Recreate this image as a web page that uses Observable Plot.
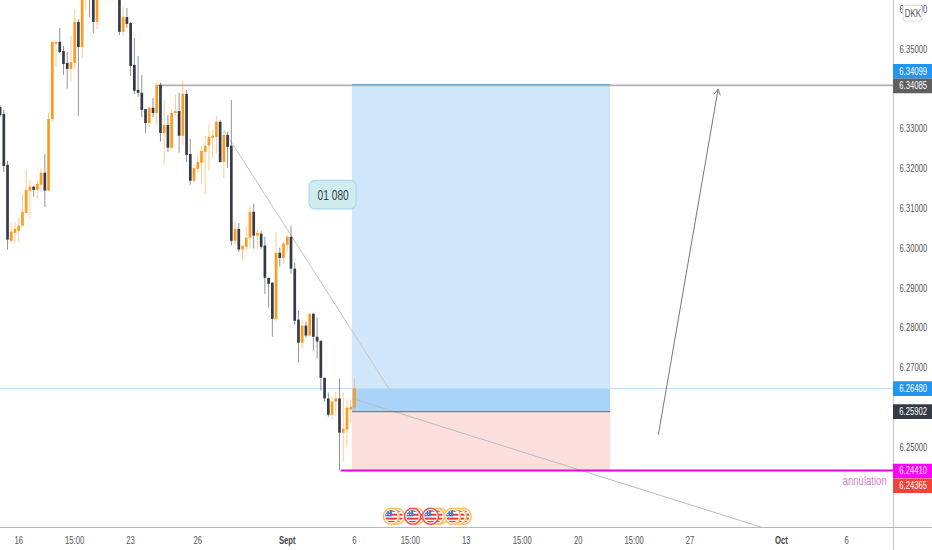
<!DOCTYPE html>
<html><head><meta charset="utf-8">
<script src="https://cdn.jsdelivr.net/npm/d3@7"></script>
<script src="https://cdn.jsdelivr.net/npm/@observablehq/plot@0.6"></script>
<style>html,body{margin:0;padding:0;background:#fff}svg{display:block}</style>
</head><body><div id="chart"></div>
<script>
// 4-hour candles, first bar is index -1
const opens = [6.3354,6.3337,6.3209,6.3018,6.3038,6.3043,6.3056,6.3088,6.3144,6.3154,6.3146,6.3159,6.3189,6.3144,6.3324,6.3513,6.3518,6.3495,6.3465,6.3450,6.3465,6.3568,6.3505,6.3643,6.3668,6.3661,6.3568,6.3673,6.3643,6.3686,6.3636,6.3648,6.3648,6.3543,6.3580,6.3565,6.3460,6.3397,6.3390,6.3349,6.3314,6.3352,6.3339,6.3410,6.3289,6.3309,6.3252,6.3339,6.3344,6.3282,6.3387,6.3236,6.3169,6.3199,6.3214,6.3242,6.3257,6.3277,6.3279,6.3317,6.3216,6.3284,6.3257,6.3018,6.3048,6.2996,6.3003,6.3026,6.3091,6.3031,6.3036,6.3006,6.2925,6.2913,6.2822,6.2988,6.2975,6.3008,6.3028,6.2948,6.2820,6.2762,6.2805,6.2780,6.2835,6.2777,6.2767,6.2674,6.2622,6.2581,6.2614,6.2622,6.2536,6.2544,6.2594,6.2599];
const closes = [6.3334,6.3206,6.3021,6.3041,6.3048,6.3056,6.3091,6.3146,6.3154,6.3146,6.3161,6.3189,6.3144,6.3324,6.3518,6.3518,6.3492,6.3462,6.3450,6.3467,6.3568,6.3505,6.3636,6.3661,6.3636,6.3568,6.3661,6.3636,6.3686,6.3648,6.3678,6.3673,6.3543,6.3580,6.3563,6.3457,6.3395,6.3390,6.3347,6.3314,6.3352,6.3339,6.3410,6.3289,6.3309,6.3252,6.3339,6.3344,6.3282,6.3387,6.3234,6.3169,6.3201,6.3216,6.3244,6.3257,6.3279,6.3282,6.3317,6.3216,6.3284,6.3254,6.3018,6.3048,6.2996,6.3006,6.3026,6.3091,6.3031,6.3038,6.3003,6.2925,6.2910,6.2822,6.2988,6.2975,6.3011,6.3028,6.2948,6.2817,6.2762,6.2805,6.2780,6.2835,6.2777,6.2765,6.2674,6.2622,6.2581,6.2614,6.2622,6.2536,6.2546,6.2599,6.2601,6.2648];
const highs = [6.3359,6.3347,6.3219,6.3063,6.3066,6.3076,6.3136,6.3199,6.3171,6.3156,6.3169,6.3199,6.3236,6.3339,6.3518,6.3518,6.3553,6.3508,6.3492,6.3533,6.3600,6.3575,6.3643,6.3678,6.3686,6.3673,6.3673,6.3686,6.3698,6.3698,6.3686,6.3678,6.3653,6.3605,6.3603,6.3568,6.3528,6.3482,6.3435,6.3349,6.3357,6.3377,6.3415,6.3415,6.3372,6.3334,6.3349,6.3385,6.3390,6.3420,6.3397,6.3274,6.3209,6.3231,6.3257,6.3282,6.3312,6.3297,6.3332,6.3322,6.3297,6.3292,6.3372,6.3066,6.3063,6.3006,6.3056,6.3106,6.3111,6.3048,6.3043,6.3028,6.2925,6.2913,6.3041,6.3001,6.3016,6.3033,6.3056,6.2963,6.2842,6.2820,6.2815,6.2835,6.2835,6.2825,6.2767,6.2674,6.2637,6.2627,6.2639,6.2672,6.2637,6.2619,6.2619,6.2672];
const lows = [6.3329,6.3191,6.2996,6.3013,6.3013,6.3016,6.3053,6.3088,6.3073,6.3129,6.3124,6.3141,6.3103,6.3144,6.3317,6.3455,6.3490,6.3435,6.3400,6.3420,6.3450,6.3332,6.3477,6.3598,6.3580,6.3540,6.3550,6.3628,6.3631,6.3633,6.3621,6.3631,6.3535,6.3533,6.3553,6.3432,6.3387,6.3380,6.3329,6.3289,6.3304,6.3329,6.3309,6.3267,6.3209,6.3242,6.3247,6.3334,6.3239,6.3259,6.3216,6.3159,6.3164,6.3189,6.3161,6.3136,6.3194,6.3226,6.3239,6.3214,6.3176,6.3201,6.3006,6.3008,6.2990,6.2968,6.2993,6.3001,6.2998,6.2996,6.2998,6.2885,6.2850,6.2777,6.2815,6.2953,6.2960,6.2990,6.2935,6.2807,6.2712,6.2747,6.2775,6.2777,6.2742,6.2722,6.2642,6.2614,6.2576,6.2569,6.2576,6.2441,6.2463,6.2499,6.2559,6.2594];

const tickBars = [4,19,34,52,94,109,124,139,154,169,184,226];
const tickNames = ["16","15:00","23","26","6","15:00","13","15:00","20","15:00","27","6"];
const boldBars = [76,208.5];
const boldNames = ["Sept","Oct"];
const priceTicks = [6.36,6.35,6.33,6.32,6.31,6.30,6.29,6.28,6.27,6.25];

const targetPrice = 6.34099, stopPrice = 6.2441, entryPrice = 6.25902, lastPrice = 6.2648, levelPrice = 6.34085, askPrice = 6.24365;
const tagNames = ["6.34099","6.34085","6.26480","6.25902","6.24410","6.24365"];
const tagPrices = [targetPrice, levelPrice, lastPrice, entryPrice, stopPrice, askPrice];
const eventBars = [105.3,103.9,110.6,109.6,116.8,116,114.4,123.2,121.9,120.3];

const rows = opens.map((o,i)=>({i:i-1,o,c:closes[i],h:highs[i],l:lows[i]}));
const up = d=>d.c>=d.o, down = d=>d.c<d.o;
const orange="#ff9a1f", dark="#363a45";
const tagFill=["#2196f3","#5f5f5f","#2196f3","#363a45","#ff00ff","#f44336"];
const tagShift=[-14,0,0,0,0,13];
const xFrameEnd=238.53, xEdge=248.98, yBottom=6.2299, yPageEnd=6.2242;
const sans="'Liberation Sans',Arial,sans-serif";
const axisFont={fontFamily:sans,fontSize:10.5};
const flag="data:image/svg+xml;utf8,"+encodeURIComponent('<svg xmlns="http://www.w3.org/2000/svg" viewBox="0 0 20 20"><rect width="20" height="20" fill="#fff"/><g fill="#e53935"><rect y="0" width="20" height="3"/><rect y="6" width="20" height="3"/><rect y="12" width="20" height="3"/><rect y="17" width="20" height="3"/></g><rect width="11" height="10" fill="#3f7fd8"/><g fill="#fff"><circle cx="3" cy="3" r="1"/><circle cx="7" cy="3" r="1"/><circle cx="3" cy="7" r="1"/><circle cx="7" cy="7" r="1"/></g></svg>');
const eventY=6.2327;
const ringColors=["#ffc061","#ffc061","#ffc061","#ef5350","#ffc061","#ffc061","#ef5350","#ffc061","#ffc061","#ffc061"];

const marks=[
  Plot.rect([0],{x1:93.46,x2:162.7,y1:levelPrice,y2:lastPrice,fill:"#d0e7fb"}),
  Plot.rect([0],{x1:93.46,x2:162.7,y1:lastPrice,y2:entryPrice,fill:"#a9d3f7"}),
  Plot.rect([0],{x1:93.46,x2:162.7,y1:entryPrice,y2:stopPrice,fill:"#fde0dd"}),
  Plot.ruleY([lastPrice],{x1:-1,x2:xFrameEnd,stroke:"#bbdefb",strokeWidth:1}),
  Plot.ruleY([levelPrice],{x1:41.5,x2:xFrameEnd,dy:-0.5,stroke:"#b0b0b0",strokeWidth:1.6}),
  Plot.ruleY([targetPrice+0.0001],{x1:93.46,x2:162.7,dy:-0.5,stroke:"#6aa7c9",strokeWidth:1}),
  Plot.link([0],{x1:59,y1:6.3297,x2:104,y2:6.2637,stroke:"#c4c4c4",strokeWidth:1}),
  Plot.link([0],{x1:93.5,y1:6.2623,x2:203.4,y2:yBottom,stroke:"#b5bcc4",strokeWidth:1,clip:true}),
  Plot.ruleX(rows,{filter:down,x:"i",y1:"l",y2:"h",stroke:dark,strokeOpacity:0.55,strokeWidth:1,clip:true}),
  Plot.ruleX(rows,{filter:up,x:"i",y1:"l",y2:"h",stroke:orange,strokeOpacity:0.5,strokeWidth:1,clip:true}),
  Plot.ruleX(rows,{filter:down,x:"i",y1:"o",y2:"c",stroke:dark,strokeWidth:2.7,clip:true}),
  Plot.ruleX(rows,{filter:up,x:"i",y1:"o",y2:"c",stroke:orange,strokeWidth:2.7,clip:true}),
  Plot.ruleY([entryPrice],{x1:93.46,x2:162.7,stroke:"#7a7f85",strokeWidth:1.3}),
  Plot.ruleY([stopPrice],{x1:90.5,x2:xFrameEnd,dy:-0.5,stroke:"#f000e0",strokeWidth:2}),
  Plot.arrow([0],{x1:175.5,y1:6.2533,x2:191.5,y2:6.34,stroke:"#777",strokeWidth:1,bend:false,headLength:9}),
  Plot.rect([0],{x1:82,x2:94.6,y1:6.3170,y2:6.3098,fill:"#cfecef",stroke:"#a9d8f2",strokeWidth:1.2,rx:6}),
  Plot.text(["01 080"],{x:88.3,y:6.3134,fill:"#3b3f46",fontFamily:sans,fontSize:14}),
  Plot.text(["annulation"],{x:230.8,y:6.2417,fill:"#d97fc8",fontFamily:sans,fontSize:13}),
  ...eventBars.flatMap((b,i)=>[
    Plot.dot([b],{x:d=>d,y:eventY,r:8,fill:"#fff",stroke:ringColors[i],strokeWidth:1.5}),
    Plot.image([b],{x:d=>d,y:eventY,r:6.2,width:13,height:13,src:flag})
  ]),
  Plot.ruleX([xFrameEnd],{y1:6.3623,y2:yPageEnd,stroke:"#c8c8c8",strokeWidth:1.2}),
  Plot.ruleY([yBottom],{x1:-1,x2:xEdge,stroke:"#b8b8b8",strokeWidth:1}),
  Plot.axisY(priceTicks,{anchor:"right",label:null,tickSize:0,tickPadding:6,tickFormat:d3.format(".5f"),fill:"#555",...axisFont}),
  Plot.rect([0],{x1:241.2,x2:246.3,y1:6.3610,y2:6.3570,fill:"#fff",stroke:"#dcdcdc",rx:3}),
  Plot.text(["DKK"],{x:243.75,y:6.3590,fill:"#555",...axisFont,fontSize:11}),
  ...tagNames.map((t,i)=>Plot.ruleY([tagPrices[i]],{x1:xFrameEnd,x2:xEdge,stroke:tagFill[i],strokeWidth:14.6,dy:tagShift[i]})),
  ...tagNames.map((t,i)=>Plot.text([t],{x:243.8,y:tagPrices[i],dy:tagShift[i],fill:"#fff",...axisFont})),
  Plot.axisX(tickBars,{label:null,tickSize:0,tickPadding:9,tickFormat:d=>tickNames[tickBars.indexOf(d)],fill:"#555",...axisFont}),
  Plot.axisX(boldBars,{label:null,tickSize:0,tickPadding:9,tickFormat:d=>boldNames[boldBars.indexOf(d)],fill:"#444",fontWeight:"bold",...axisFont})
];

const plot=Plot.plot({
  width:932,height:550,marginLeft:0,marginRight:39,marginTop:0,marginBottom:23,
  style:{background:"#fff",overflow:"hidden"},
  x:{domain:[-0.885,xFrameEnd],range:[0,893],type:"linear"},
  y:{domain:[yBottom,6.3623],range:[527,0],type:"linear"},
  marks
});
document.getElementById("chart").appendChild(plot);
// The reference's lettering is horizontally condensed: narrow every text the same way.
plot.querySelectorAll("text").forEach(t=>{
  const len=t.getComputedTextLength();
  if(len>0){t.setAttribute("textLength",(len*0.73).toFixed(1));t.setAttribute("lengthAdjust","spacingAndGlyphs");}
});
</script></body></html>
